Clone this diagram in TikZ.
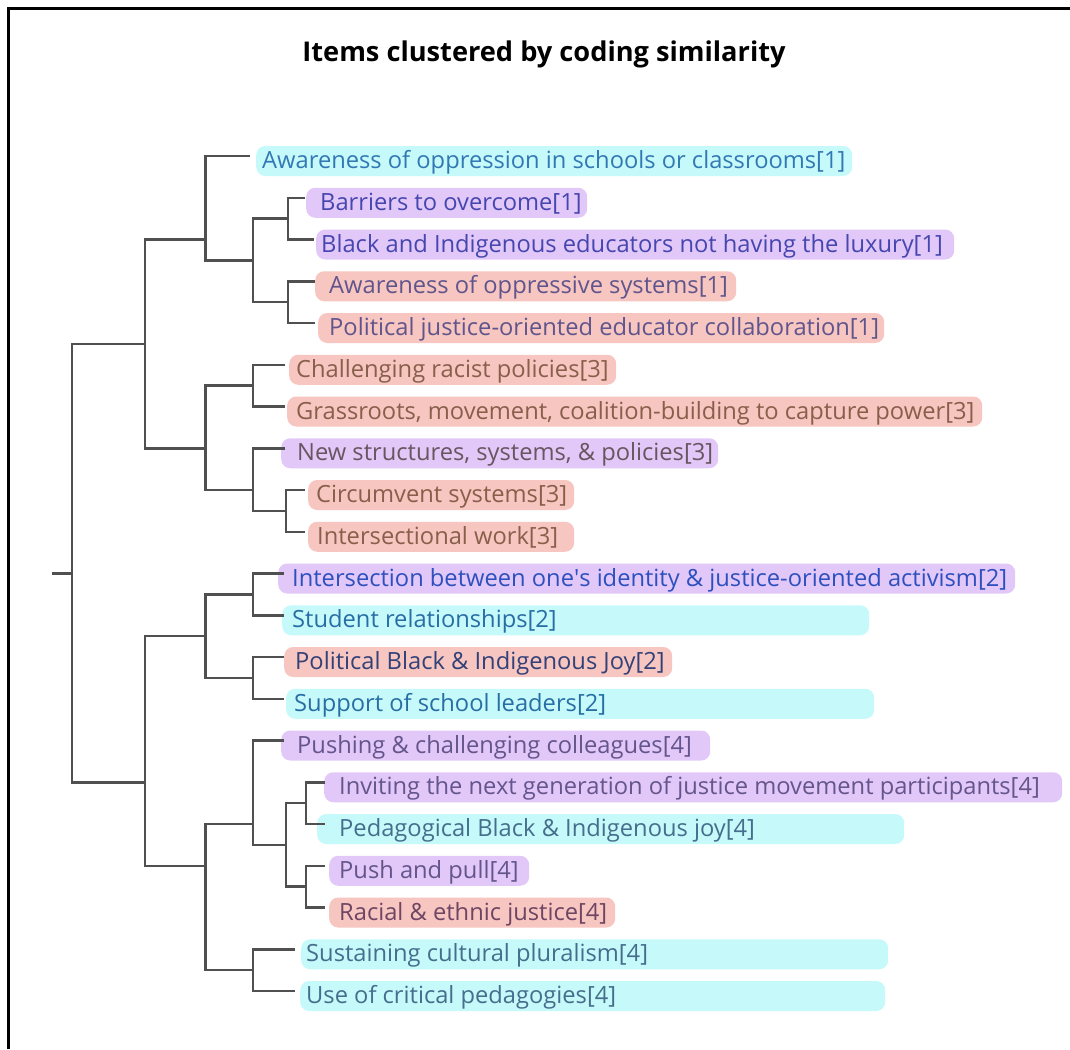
\documentclass[tikz,border=0pt]{standalone}
\usepackage{fontspec}
\setmainfont{Open Sans}
\definecolor{cybg}{RGB}{198,250,250}
\definecolor{pubg}{RGB}{226,200,248}
\definecolor{pkbg}{RGB}{248,198,192}
\definecolor{cbluea}{RGB}{50,120,180}
\definecolor{cindigo}{RGB}{70,70,175}
\definecolor{cmauve}{RGB}{95,85,140}
\definecolor{cbrown}{RGB}{135,95,75}
\definecolor{cgraybr}{RGB}{105,85,95}
\definecolor{cblue}{RGB}{45,80,190}
\definecolor{cteal}{RGB}{40,110,165}
\definecolor{cnavy}{RGB}{50,65,120}
\definecolor{cpgray}{RGB}{100,85,140}
\definecolor{cbgray}{RGB}{70,110,140}
\definecolor{crpurple}{RGB}{110,70,100}
\definecolor{treeline}{RGB}{80,80,80}
\newcommand\leafrow[8]{%
  \pgfmathsetmacro\rowc{161+(#1-1)*41.75}
  \node[bgbox, fill=#5, minimum width=#4pt-#2pt, anchor=west] (b#1) at (#2,\rowc) {};
  \node[lbl, text=#6, anchor=base west] (t#1) at (#3,\rowc+7.5) {#7};
  \coordinate (e#1) at (#8,\rowc-5);
}
\begin{document}
\begin{tikzpicture}[x=1pt,y=-1pt,
  bgbox/.style={draw=none, rounded corners=9pt, minimum height=30pt, inner sep=0pt},
  lbl/.style={inner sep=0pt, font=\fontsize{23.7}{28}\selectfont},
  titlestyle/.style={inner sep=0pt, font=\fontsize{27.2}{31}\selectfont\bfseries},
  tree/.style={draw=treeline, line width=2.5pt},
  frame/.style={draw=black, line width=3pt}]
\useasboundingbox (0,0) rectangle (1070,1049);
\fill[white] (0,0) rectangle (1070,1049);
% frame
\coordinate (fbl) at (8,1049);
\coordinate (ftl) at (8,9);
\coordinate (ftr) at (1070,9);
\draw[frame] (fbl) -- (ftl) -- (ftr);
% title
\node[titlestyle, anchor=base] (title) at (544,62) {Items clustered by coding similarity};
% leaves
\leafrow{1}{256}{262}{852}{cybg}{cbluea}{Awareness of oppression in schools or classrooms[1]}{250}
\leafrow{2}{306}{320}{587}{pubg}{cindigo}{Barriers to overcome[1]}{305}
\leafrow{3}{316}{321}{954}{pubg}{cindigo}{Black and Indigenous educators not having the luxury[1]}{314}
\leafrow{4}{315}{329}{736}{pkbg}{cmauve}{Awareness of oppressive systems[1]}{315}
\leafrow{5}{318}{329}{884}{pkbg}{cmauve}{Political justice-oriented educator collaboration[1]}{315}
\leafrow{6}{289}{296}{616}{pkbg}{cbrown}{Challenging racist policies[3]}{285}
\leafrow{7}{287}{296}{982}{pkbg}{cbrown}{Grassroots, movement, coalition-building to capture power[3]}{285}
\leafrow{8}{281}{297}{718}{pubg}{cgraybr}{New structures, systems, \& policies[3]}{285}
\leafrow{9}{308}{316}{574}{pkbg}{cbrown}{Circumvent systems[3]}{305}
\leafrow{10}{308}{317}{574}{pkbg}{cbrown}{Intersectional work[3]}{305}
\leafrow{11}{278}{292}{1015}{pubg}{cblue}{Intersection between one\textquotesingle s identity \& justice-oriented activism[2]}{284}
\leafrow{12}{282}{292}{869}{cybg}{cteal}{Student relationships[2]}{284}
\leafrow{13}{284}{295}{672}{pkbg}{cnavy}{Political Black \& Indigenous Joy[2]}{284}
\leafrow{14}{286}{294}{874}{cybg}{cteal}{Support of school leaders[2]}{284}
\leafrow{15}{281}{297}{710}{pubg}{cpgray}{Pushing \& challenging colleagues[4]}{284}
\leafrow{16}{324}{339}{1062}{pubg}{cpgray}{Inviting the next generation of justice movement participants[4]}{325}
\leafrow{17}{317}{339}{904}{cybg}{cbgray}{Pedagogical Black \& Indigenous joy[4]}{325}
\leafrow{18}{329}{339}{529}{pubg}{cpgray}{Push and pull[4]}{325}
\leafrow{19}{329}{339}{615}{pkbg}{crpurple}{Racial \& ethnic justice[4]}{325}
\leafrow{20}{301}{306}{888}{cybg}{cbgray}{Sustaining cultural pluralism[4]}{295}
\leafrow{21}{300}{306}{885}{cybg}{cbgray}{Use of critical pedagogies[4]}{295}
% internal cluster nodes
\coordinate (C) at (288,218.625);
\coordinate (D) at (288,302.125);
\coordinate (B) at (253,260.375);
\coordinate (A) at (205.5,239.5);
\coordinate (F) at (253,385.625);
\coordinate (H) at (286,510.875);
\coordinate (G) at (253,490);
\coordinate (E) at (205.5,448.25);
\coordinate (T) at (145,343.875);
\coordinate (J) at (253,594.375);
\coordinate (K) at (253,677.875);
\coordinate (I) at (205.5,636.125);
\coordinate (O) at (306,803.125);
\coordinate (P) at (306,886.625);
\coordinate (N) at (286,844.875);
\coordinate (M) at (253,824);
\coordinate (Q) at (253,970.125);
\coordinate (L) at (205.5,865.75);
\coordinate (Bt) at (145,782.25);
\coordinate (R) at (72,573.5);
\coordinate (rs) at (52,573.5);
% tree connectors
\draw[tree] (e2) -| (C) |- (e3);
\draw[tree] (e4) -| (D) |- (e5);
\draw[tree] (C) -| (B) |- (D);
\draw[tree] (e1) -| (A) |- (B);
\draw[tree] (e6) -| (F) |- (e7);
\draw[tree] (e9) -| (H) |- (e10);
\draw[tree] (e8) -| (G) |- (H);
\draw[tree] (F) -| (E) |- (G);
\draw[tree] (A) -| (T) |- (E);
\draw[tree] (e11) -| (J) |- (e12);
\draw[tree] (e13) -| (K) |- (e14);
\draw[tree] (J) -| (I) |- (K);
\draw[tree] (e16) -| (O) |- (e17);
\draw[tree] (e18) -| (P) |- (e19);
\draw[tree] (O) -| (N) |- (P);
\draw[tree] (e15) -| (M) |- (N);
\draw[tree] (e20) -| (Q) |- (e21);
\draw[tree] (M) -| (L) |- (Q);
\draw[tree] (I) -| (Bt) |- (L);
\draw[tree] (T) -| (R) |- (Bt);
\draw[tree] (rs) -- (R);
\end{tikzpicture}
\end{document}
